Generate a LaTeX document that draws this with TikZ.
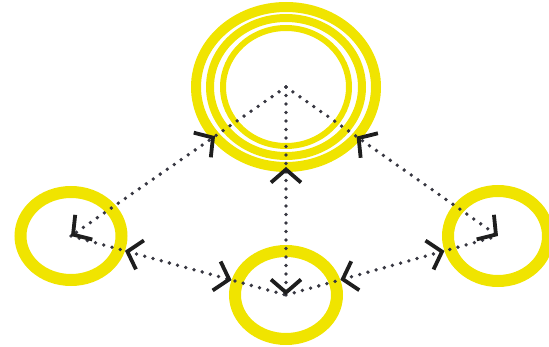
\documentclass[tikz,border=0pt]{standalone}
\usetikzlibrary{arrows.meta,shapes.geometric}
\definecolor{ringyellow}{RGB}{240,228,0}
\definecolor{dotgray}{RGB}{55,55,65}
\definecolor{tipblack}{RGB}{30,30,30}
\tikzset{
  ring/.style={ellipse,draw=ringyellow,inner sep=0pt},
  dots/.style={draw=dotgray,line width=3.8pt,line cap=round,dash pattern=on 0pt off 8.5pt},
  barb/.style={tips,color=tipblack,{Straight Barb[length=13pt,width=30pt,line width=3.8pt]}-{Straight Barb[length=13pt,width=30pt,line width=3.8pt]}}
}
\begin{document}
\begin{tikzpicture}[x=1pt,y=-1pt]
\useasboundingbox (0,0) rectangle (549,347);
\node[ring,line width=10pt,minimum width=180pt,minimum height=160pt,outer sep=0pt] (top) at (286,87) {};
\draw[ringyellow,line width=8pt] (top.center) ellipse [x radius=76,y radius=69];
\draw[ringyellow,line width=6pt] (top.center) ellipse [x radius=63,y radius=59];
\node[ring,line width=12pt,minimum width=101pt,minimum height=88pt] (left) at (71,236) {};
\node[ring,line width=12pt,minimum width=102pt,minimum height=88pt] (bottom) at (286,295) {};
\node[ring,line width=12pt,minimum width=100pt,minimum height=90pt] (right) at (498,236) {};
% dotted links, centre to centre
\draw[dots] (top.center) -- (left.center);
\draw[dots] (top.center) -- (right.center);
\draw[dots] (top.center) -- (bottom.center);
\draw[dots] (left.center) -- (bottom.center);
\draw[dots] (bottom.center) -- (right.center);
% arrow heads
\path[barb] (top) -- (left.center);
\path[barb] (top) -- (right.center);
\path[barb] (top) -- (bottom.center);
\path[barb] (left) -- (bottom);
\path[barb] (bottom) -- (right);
\end{tikzpicture}
\end{document}
